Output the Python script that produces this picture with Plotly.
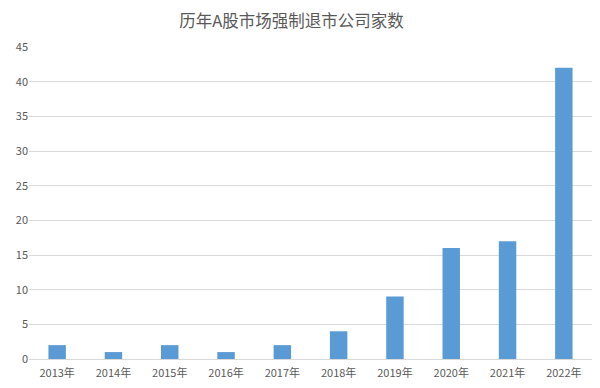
import plotly.graph_objects as go

categories = ["2013年", "2014年", "2015年", "2016年", "2017年", "2018年", "2019年", "2020年", "2021年", "2022年"]
values = [2, 1, 2, 1, 2, 4, 9, 16, 17, 42]
title_text = "历年A股市场强制退市公司家数"

fig = go.Figure(go.Bar(x=categories, y=values, marker=dict(color="#5B9BD5", line=dict(width=0)), width=0.31))

fig.update_layout(
    width=592, height=380,
    margin=dict(l=20, r=8, t=39, b=26),
    paper_bgcolor="white", plot_bgcolor="white",
    font=dict(family="Noto Sans CJK SC, DejaVu Sans", color="#595959", size=11),
    title=dict(text=title_text, x=0.479, xanchor="center", y=0.966, yanchor="middle",
               font=dict(size=16.5, color="#595959")),
    showlegend=False,
    bargap=0.69,
)
fig.update_yaxes(range=[0, 45], dtick=5, showgrid=True, gridcolor="#D9D9D9", gridwidth=1,
                 zeroline=True, zerolinecolor="#D9D9D9", zerolinewidth=1, showline=False,
                 ticks="", tickfont=dict(size=11, color="#595959"))
fig.update_xaxes(showline=True, linecolor="#D9D9D9", linewidth=1, ticks="",
                 ticklabelstandoff=4, tickfont=dict(size=11, color="#595959"))

fig.write_html("out.html")
